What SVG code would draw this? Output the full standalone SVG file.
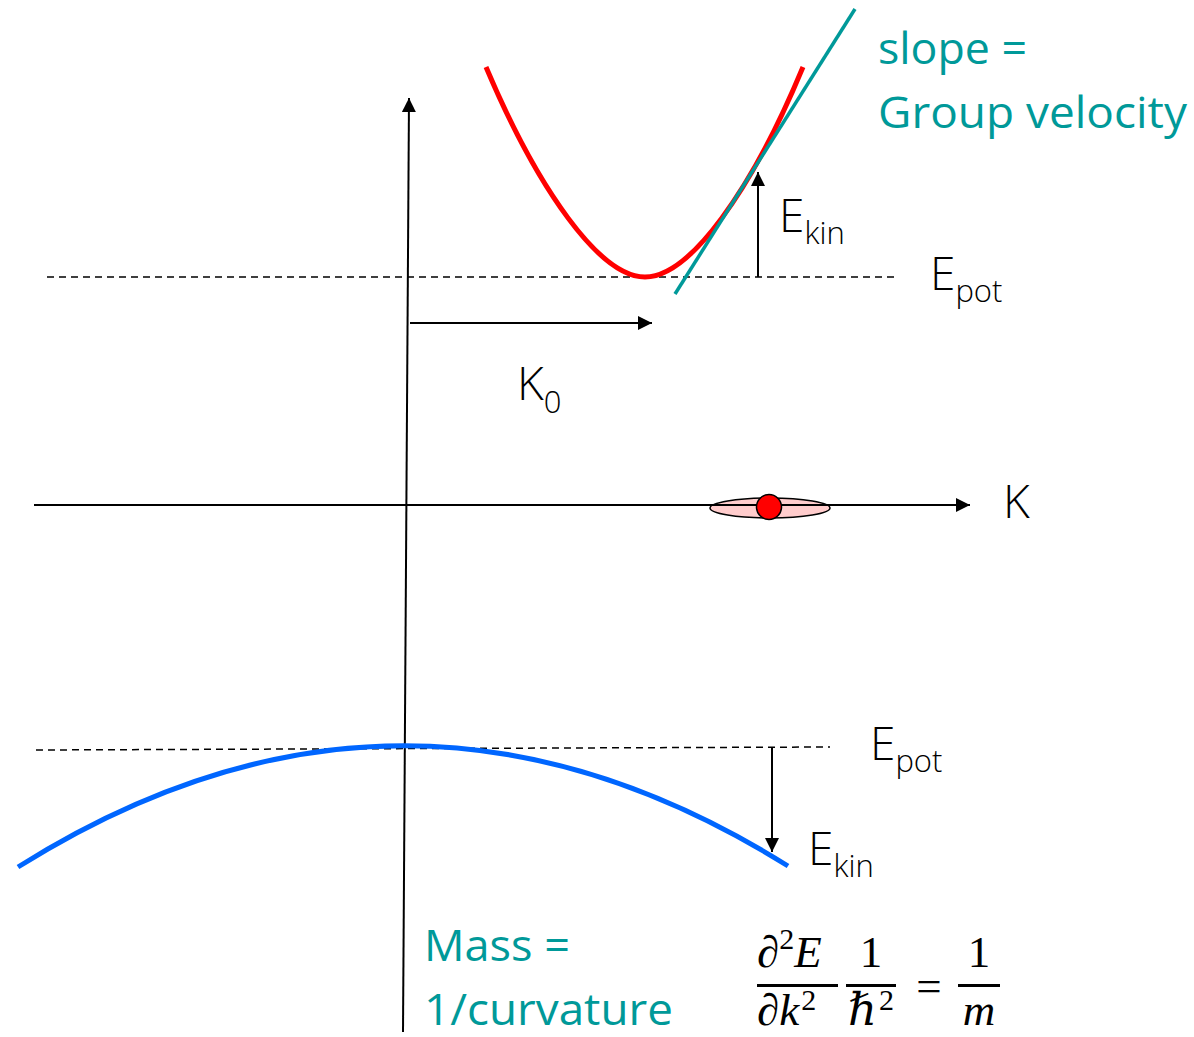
<svg xmlns="http://www.w3.org/2000/svg" width="1194" height="1037" viewBox="0 0 1194 1037">
<style>
.lbl{font-family:"Open Sans","Liberation Sans",sans-serif;font-weight:300;fill:#000}
.teal{font-family:"Open Sans","Liberation Sans",sans-serif;font-weight:400;fill:#009999;font-size:43px}
.ax{stroke:#000;stroke-width:2;fill:none}
.dash{stroke:#000;stroke-width:1.5;stroke-dasharray:7 5;fill:none}
.math{font-family:"Liberation Serif","DejaVu Serif",serif;font-size:45px;fill:#000}
</style>
<defs>
<marker id="ahL" viewBox="0 0 10 10" refX="10" refY="5" markerWidth="14" markerHeight="14" markerUnits="userSpaceOnUse" orient="auto">
<path d="M0,0 L10,5 L0,10 z" fill="#000"/>
</marker>
</defs>
<g id="connectors">
<line id="y-axis" class="ax" x1="403" y1="1032" x2="409" y2="98" marker-end="url(#ahL)"/>
<line id="k-axis" class="ax" x1="34" y1="505" x2="970" y2="505" marker-end="url(#ahL)"/>
<line id="epot-top" class="dash" x1="47" y1="277" x2="895" y2="277"/>
<line id="epot-bottom" class="dash" x1="36" y1="750" x2="830" y2="747"/>
<line id="k0-arrow" class="ax" x1="410" y1="323" x2="652" y2="323" marker-end="url(#ahL)"/>
<line id="ekin-top-arrow" class="ax" x1="758" y1="277" x2="758" y2="172" marker-end="url(#ahL)"/>
<line id="ekin-bottom-arrow" class="ax" x1="772" y1="748" x2="772" y2="852" marker-end="url(#ahL)"/>
</g>
<g id="conduction-band">
<path d="M486,67 C538,190 600,277 645,277 C690,277 752,190 803,67" fill="none" stroke="#ff0000" stroke-width="5"/>
</g>
<g id="tangent">
<line x1="675" y1="294" x2="855" y2="9" stroke="#009999" stroke-width="3.5"/>
</g>
<g id="valence-band">
<path d="M18,867 Q403,625 788,866" fill="none" stroke="#0066ff" stroke-width="5"/>
</g>
<g id="wavepacket">
<ellipse cx="770" cy="508" rx="60" ry="10" fill="#ffcccc" stroke="#000" stroke-width="1.5"/>
<line x1="710" y1="505" x2="830" y2="505" stroke="#000" stroke-width="2"/>
<circle cx="769" cy="507" r="12.5" fill="#ff0000" stroke="#000" stroke-width="1.5"/>
</g>
<g id="labels">
<text class="teal" x="878" y="64" textLength="149" lengthAdjust="spacingAndGlyphs">slope =</text>
<text class="teal" x="878" y="128" textLength="309" lengthAdjust="spacingAndGlyphs">Group velocity</text>
<text class="lbl" x="779" y="232" font-size="46">E<tspan font-size="31" dy="12">kin</tspan></text>
<text class="lbl" x="930" y="290" font-size="46">E<tspan font-size="31" dy="12">pot</tspan></text>
<text class="lbl" x="517" y="400" font-size="46">K<tspan font-size="31" dy="13">0</tspan></text>
<text class="lbl" x="1003" y="518" font-size="46">K</text>
<text class="lbl" x="870" y="760" font-size="46">E<tspan font-size="31" dy="12">pot</tspan></text>
<text class="lbl" x="808" y="865" font-size="46">E<tspan font-size="31" dy="12">kin</tspan></text>
<text class="teal" x="424" y="961" textLength="146" lengthAdjust="spacingAndGlyphs">Mass =</text>
<text class="teal" x="424" y="1025" textLength="249" lengthAdjust="spacingAndGlyphs">1/curvature</text>
</g>
<g id="formula">
<text class="math" x="757" y="967">∂<tspan font-size="30" dy="-18">2</tspan><tspan dy="18" font-style="italic">E</tspan></text>
<rect x="757" y="984" width="81" height="3" fill="#000"/>
<text class="math" x="757" y="1025">∂<tspan font-style="italic">k</tspan><tspan font-size="30" dy="-15" dx="2">2</tspan></text>
<text class="math" x="871" y="967" text-anchor="middle">1</text>
<rect x="846" y="984" width="50" height="3" fill="#000"/>
<text class="math" x="848" y="1025"><tspan font-style="italic">ℏ</tspan><tspan font-size="30" dy="-15" dx="2">2</tspan></text>
<text class="math" x="929" y="1001" text-anchor="middle" font-size="52">=</text>
<text class="math" x="979" y="967" text-anchor="middle">1</text>
<rect x="958" y="984" width="42" height="3" fill="#000"/>
<text class="math" x="979" y="1025" text-anchor="middle" font-style="italic">m</text>
</g>
</svg>
